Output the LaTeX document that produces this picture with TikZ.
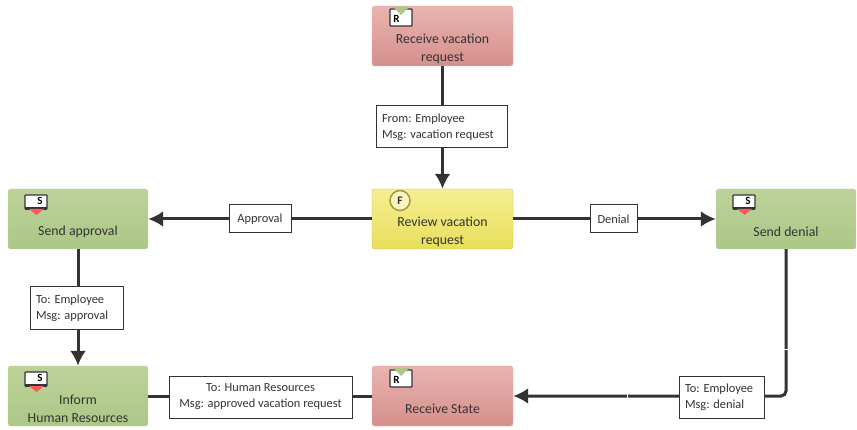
\documentclass[tikz,border=0pt]{standalone}
\usepackage{fontspec}
\setmainfont{Carlito}
\usetikzlibrary{arrows.meta,calc,positioning}
\definecolor{redT}{HTML}{E9B4B0}
\definecolor{redB}{HTML}{D58F8B}
\definecolor{greenT}{HTML}{BDD29A}
\definecolor{greenB}{HTML}{ABC786}
\definecolor{yelT}{HTML}{F6EE90}
\definecolor{yelB}{HTML}{E8DF5C}
\definecolor{ink}{HTML}{333333}
\tikzset{
 x=1pt,y=-1pt,
 task/.style={rounded corners=2.5pt,minimum width=141pt,minimum height=60pt,align=flush center,text=ink,font=\fontsize{13.8}{17.5}\selectfont,inner sep=0pt,text width=135pt},
 redtask/.style={task,draw=redB!70!white,top color=redT,bottom color=redB},
 greentask/.style={task,draw=greenB!70!white,top color=greenT,bottom color=greenB},
 yellowtask/.style={task,draw=yelB!60!gray,top color=yelT,bottom color=yelB},
 lab/.style={draw=ink,line width=1pt,fill=white,text=ink,align=flush left,inner xsep=6pt,inner ysep=0pt,font=\fontsize{12.4}{16}\selectfont},
 clab/.style={lab,align=center,inner xsep=0pt},
 flow/.style={draw=ink,line width=3pt,-{Latex[length=15pt,width=16pt]},rounded corners=5pt},
 flowline/.style={draw=ink,line width=3pt},
 pics/recv/.style={code={
   \fill[white,draw=ink,line width=1.2pt,rounded corners=.8pt] (0,1) rectangle (22,18);
   \fill[greenB] (3,-1) -- (19,-1) -- (11,7) -- cycle;
   \node[text=black,font=\bfseries\fontsize{11}{11}\selectfont,inner sep=0pt] at (6.5,11) {R};
 }},
 pics/send/.style={code={
   \fill[white,draw=ink,line width=1.2pt,rounded corners=.8pt] (0,0) rectangle (22,14);
   \fill[ink] (0,12) rectangle (22,15);
   \fill[red!65!white] (4,14) -- (19,14) -- (11.5,20) -- cycle;
   \node[text=black,font=\bfseries\fontsize{11}{11}\selectfont,inner sep=0pt] at (15,6) {S};
 }},
}
\begin{document}
\begin{tikzpicture}
\useasboundingbox (0,0) rectangle (857,430);
\node[redtask] (rv) at (442.5,36) {\\[18pt]Receive vacation\\request};
\node[yellowtask] (rev) at (442.5,219) {\\[18pt]Review vacation\\request};
\node[greentask,minimum width=140pt] (sa) at (78,219) {\\[18pt]Send approval};
\node[greentask,minimum width=140pt] (sd) at (786,219) {\\[18pt]Send denial};
\node[greentask,minimum width=140pt] (ihr) at (78,396) {\\[18pt]Inform\\Human Resources};
\node[redtask] (rs) at (442.5,396) {\\[18pt]Receive State};
\draw[flow] (rv) -- (rev);
\draw[flow] (rev) -- (sa);
\draw[flow] (rev) -- (sd);
\draw[flow] (sa) -- (ihr);
\draw[flowline] (ihr) -- (rs);
\draw[flow] (sd.south) |- (rs.east);
\draw[white,line width=1pt] (784,350) -- (788,350) (627,394) -- (627,398);
\node[lab,minimum height=42pt,text width=119pt] (l1) at (441.5,127) {From: Employee\\Msg: vacation request};
\node[clab,minimum width=62pt,minimum height=28pt] (l2) at (260,219) {Approval};
\node[clab,minimum width=47pt,minimum height=28pt] (l3) at (613.5,219) {Denial};
\node[lab,minimum height=43pt,text width=81pt] (l4) at (76.5,308.5) {To: Employee\\Msg: approval};
\node[clab,minimum width=183pt,minimum height=42pt] (l5) at (260.5,397) {To: Human Resources\\Msg: approved vacation request};
\node[lab,minimum height=42pt,text width=73pt] (l6) at (721.5,397) {To: Employee\\Msg: denial};
\pic at (390,8) {recv};
\pic at (390,369) {recv};
\node[circle,draw=yelB!60!ink,line width=1.5pt,fill=yelT!60!white,minimum size=20pt,inner sep=0pt,font=\bfseries\fontsize{11.5}{11.5}\selectfont,text=ink] (fi) at (400,200.5) {F};
\pic at (25,195) {send};
\pic at (733,195) {send};
\pic at (25,372) {send};
\end{tikzpicture}
\end{document}
